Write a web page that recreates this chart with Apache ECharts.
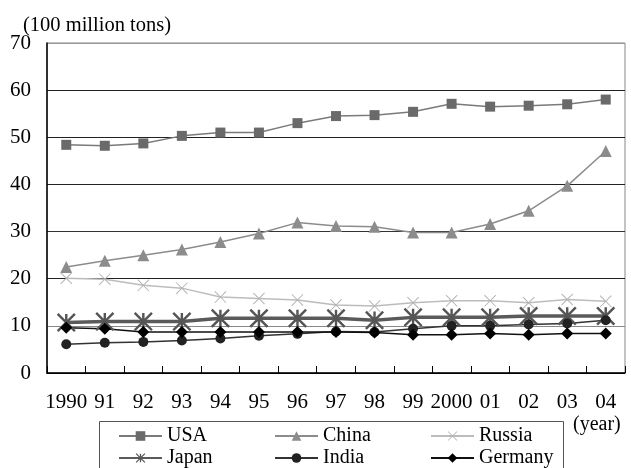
<!DOCTYPE html>
<html><head><meta charset="utf-8">
<script src="https://cdn.jsdelivr.net/npm/echarts@6/dist/echarts.min.js"></script>
<style>html,body{margin:0;padding:0;background:#fff}#c{width:631px;height:468px}</style>
</head><body><div id="c"></div>
<script>
const categories = ['1990','91','92','93','94','95','96','97','98','99','2000','01','02','03','04'];
const usa     = [48.4,48.2,48.7,50.3,51.0,51.0,53.0,54.5,54.7,55.4,57.1,56.5,56.7,57.0,58.0];
const china   = [22.5,23.8,25.0,26.2,27.8,29.6,31.9,31.2,31.0,29.8,29.8,31.6,34.4,39.7,47.1];
const russia  = [20.1,19.9,18.6,18.0,16.1,15.8,15.5,14.4,14.2,14.9,15.3,15.3,14.9,15.6,15.2];
const japan   = [10.7,10.9,10.9,10.9,11.6,11.6,11.6,11.6,11.2,11.8,11.8,11.8,12.1,12.1,12.1];
const india   = [6.1,6.4,6.6,6.9,7.3,7.9,8.3,8.8,8.7,9.4,10.0,10.0,10.3,10.5,11.2];
const germany = [9.6,9.4,8.7,8.7,8.7,8.7,8.7,8.7,8.6,8.1,8.1,8.4,8.1,8.4,8.4];
const yTicks = [0,10,20,30,40,50,60,70];
const legendNames = ['USA','China','Russia','Japan','India','Germany'];

const FONT = 'Liberation Serif';
const starPath = 'path://M8.6,0L11.4,0L11.4,20L8.6,20Z M1,-1L21,19L19,21L-1,1Z M19,-1L21,1L1,21L-1,19Z';
const xPath = 'path://M0.6,-0.6L20.6,19.4L19.4,20.6L-0.6,0.6Z M19.4,-0.6L20.6,0.6L0.6,20.6L-0.6,19.4Z';

function ser(name, data, color, lineColor, width, symbol, size) {
  return {name, type:'line', data, symbol, symbolSize:size, showSymbol:true,
    itemStyle:{color, borderWidth:0}, lineStyle:{color:lineColor, width}, emphasis:{disabled:true}, animation:false};
}

const chart = echarts.init(document.getElementById('c'));
const legendLefts = [118, 274, 430];
const legendTops = [426, 448];
const legends = legendNames.map((n, i) => ({
  orient:'horizontal', left:legendLefts[i % 3], top:legendTops[Math.floor(i / 3)], padding:0, itemGap:0,
  itemWidth:43, itemHeight:12, selectedMode:false, data:[n],
  textStyle:{fontFamily:FONT, fontSize:20, color:'#000'}
}));
chart.setOption({
  animation:false,
  grid:{left:47, right:6, top:43, bottom:95, show:true, borderColor:'#888', borderWidth:1},
  xAxis:{type:'category', data:categories, boundaryGap:true,
    axisLine:{lineStyle:{color:'#000', width:1.5}},
    axisTick:{show:true, inside:true, length:7, interval:0, lineStyle:{color:'#000'}},
    axisLabel:{interval:0, margin:19, fontFamily:FONT, fontSize:21, color:'#000'}},
  yAxis:{type:'value', min:yTicks[0], max:yTicks[yTicks.length-1], interval:10,
    axisLine:{show:true, lineStyle:{color:'#000', width:1.5}},
    axisTick:{show:false},
    axisLabel:{margin:16, fontFamily:FONT, fontSize:21, color:'#000'},
    splitLine:{show:true, lineStyle:{color:['#000','#888','#222','#333','#222','#222','#222','#999'], width:1}}},
  legend:legends,
  graphic:[
    {type:'rect', left:97, top:419, shape:{width:464, height:52}, style:{fill:'none', stroke:'#555', lineWidth:1}, silent:true},
    {type:'text', left:23, top:15, style:{text:'(100 million tons)', font:'20.5px "Liberation Serif"', fill:'#000'}},
    {type:'text', left:573, top:415, style:{text:'(year)', font:'20px "Liberation Serif"', fill:'#000'}}
  ],
  series:[
    ser('USA', usa, '#6a6a6a', '#7a7a7a', 1.5, 'rect', 10),
    ser('China', china, '#8c8c8c', '#8c8c8c', 1.5, 'triangle', 12),
    ser('Russia', russia, '#b4b4b4', '#bcbcbc', 1.5, xPath, 12),
    ser('Japan', japan, '#555', '#5a5a5a', 3.5, starPath, 19),
    ser('India', india, '#222', '#333', 1.5, 'circle', 10),
    ser('Germany', germany, '#000', '#111', 1.5, 'diamond', 12)
  ]
});
</script></body></html>
